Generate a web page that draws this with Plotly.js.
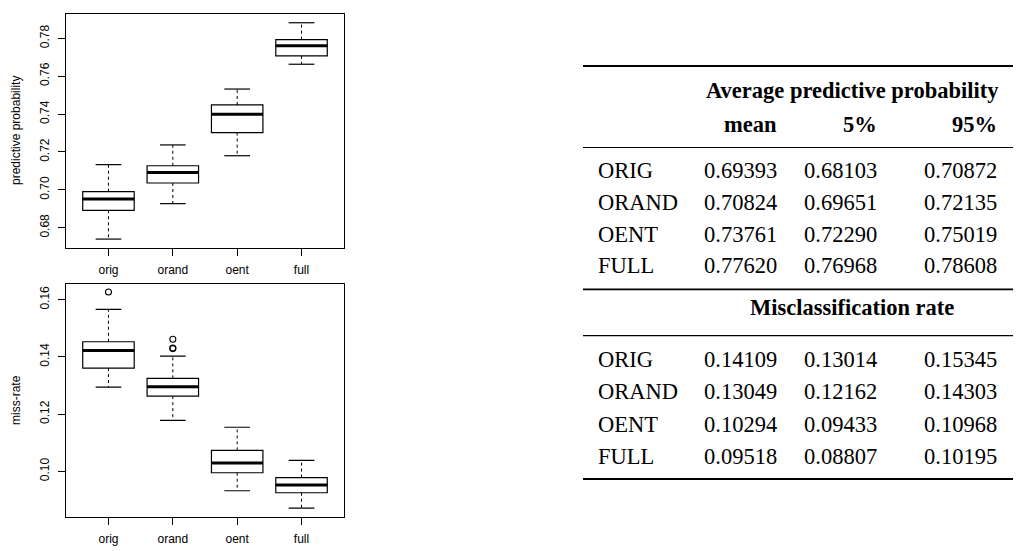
<!DOCTYPE html>
<html>
<head>
<meta charset="utf-8">
<script src="https://cdn.plot.ly/plotly-3.0.1.min.js"></script>
<style>html,body{margin:0;padding:0;background:#fff;}#chart{width:1024px;height:551px;}</style>
</head>
<body>
<div id="chart"></div>
<script>
// ---- data ----
const groups = ['orig', 'orand', 'oent', 'full'];
const groupPos = [1, 2, 3, 4];

// predictive probability boxplot stats
const probLower  = [0.6740, 0.6927, 0.7180, 0.7663];
const probQ1     = [0.6892, 0.7036, 0.7302, 0.7707];
const probMedian = [0.6952, 0.7092, 0.7399, 0.7761];
const probQ3     = [0.6990, 0.7127, 0.7448, 0.7793];
const probUpper  = [0.7133, 0.7237, 0.7532, 0.7882];

// miss-rate boxplot stats
const missLower  = [0.1294, 0.1178, 0.0932, 0.0871];
const missQ1     = [0.1361, 0.1263, 0.0995, 0.0925];
const missMedian = [0.1422, 0.1296, 0.1029, 0.0952];
const missQ3     = [0.1453, 0.1325, 0.1073, 0.0978];
const missUpper  = [0.1566, 0.1403, 0.1154, 0.1038];
const missOutX   = [1, 2, 2, 2];
const missOutY   = [0.1627, 0.1462, 0.1431, 0.1429];

const probTicks = [0.68, 0.70, 0.72, 0.74, 0.76, 0.78];
const missTicks = [0.10, 0.12, 0.14, 0.16];

// table
const rowLabels = ['ORIG', 'ORAND', 'OENT', 'FULL'];
const colLabels = ['mean', '5%', '95%'];
const tableHead1 = 'Average predictive probability';
const tableHead2 = 'Misclassification rate';
const probMean = [0.69393, 0.70824, 0.73761, 0.77620];
const probP5   = [0.68103, 0.69651, 0.72290, 0.76968];
const probP95  = [0.70872, 0.72135, 0.75019, 0.78608];
const missMean = [0.14109, 0.13049, 0.10294, 0.09518];
const missP5   = [0.13014, 0.12162, 0.09433, 0.08807];
const missP95  = [0.15345, 0.14303, 0.10968, 0.10195];

// ---- helpers ----
const W = 1024, H = 551;
const px = x => x / W;
const py = y => 1 - y / H;
const BLACK = '#000';
const sansFont = {family: 'Liberation Sans, Arial, Helvetica, sans-serif', size: 12, color: BLACK};
const serifFont = {family: 'Liberation Serif, Times New Roman, serif', size: 22.5, color: BLACK};

function boxTraces(lower, q1, med, q3, upper, xa, ya) {
  const traces = [];
  traces.push({
    type: 'box', x: groupPos, q1: q1, median: med, q3: q3,
    lowerfence: q1, upperfence: q3, width: 0.8, whiskerwidth: 0,
    boxpoints: false, fillcolor: '#fff',
    line: {color: BLACK, width: 1.2},
    xaxis: xa, yaxis: ya, hoverinfo: 'skip', showlegend: false
  });
  const wx = [], wy = [];
  const cx = [], cy = [];
  const mx = [], my = [];
  groupPos.forEach((p, i) => {
    wx.push(p, p, null, p, p, null);
    wy.push(q3[i], upper[i], null, q1[i], lower[i], null);
    cx.push(p - 0.2, p + 0.2, null, p - 0.2, p + 0.2, null);
    cy.push(upper[i], upper[i], null, lower[i], lower[i], null);
    mx.push(p - 0.4, p + 0.4, null);
    my.push(med[i], med[i], null);
  });
  traces.push({type: 'scatter', mode: 'lines', x: wx, y: wy, xaxis: xa, yaxis: ya,
    line: {color: BLACK, width: 1, dash: '3px,3px'}, hoverinfo: 'skip', showlegend: false});
  traces.push({type: 'scatter', mode: 'lines', x: cx, y: cy, xaxis: xa, yaxis: ya,
    line: {color: BLACK, width: 1.2}, hoverinfo: 'skip', showlegend: false});
  traces.push({type: 'scatter', mode: 'lines', x: mx, y: my, xaxis: xa, yaxis: ya,
    line: {color: BLACK, width: 3}, hoverinfo: 'skip', showlegend: false});
  return traces;
}

const data = [].concat(
  boxTraces(probLower, probQ1, probMedian, probQ3, probUpper, 'x', 'y'),
  boxTraces(missLower, missQ1, missMedian, missQ3, missUpper, 'x2', 'y2'),
  [{type: 'scatter', mode: 'markers', x: missOutX, y: missOutY, xaxis: 'x2', yaxis: 'y2',
    marker: {symbol: 'circle-open', size: 6, color: BLACK, line: {width: 1.1, color: BLACK}},
    hoverinfo: 'skip', showlegend: false}]
);

const xCommon = {
  range: [0.34, 4.66], tickvals: groupPos, ticktext: groups,
  showline: true, mirror: true, linecolor: BLACK, linewidth: 1,
  ticks: 'outside', ticklen: 7, tickwidth: 1, tickcolor: BLACK,
  showgrid: false, zeroline: false, tickfont: sansFont, ticklabelstandoff: 4,
  domain: [px(66), px(344)], fixedrange: true
};
const yCommon = {
  showline: true, mirror: true, linecolor: BLACK, linewidth: 1,
  ticks: 'outside', ticklen: 7, tickwidth: 1, tickcolor: BLACK,
  showgrid: false, zeroline: false, tickfont: sansFont, tickangle: -90,
  tickformat: '.2f', ticklabelstandoff: 4, fixedrange: true
};

const annotations = [];
const shapes = [];
annotations.push({text: 'predictive probability', xref: 'paper', yref: 'paper', x: px(16), y: py(131),
  textangle: -90, showarrow: false, font: sansFont, xanchor: 'center', yanchor: 'middle'});
annotations.push({text: 'miss-rate', xref: 'paper', yref: 'paper', x: px(16), y: py(400),
  textangle: -90, showarrow: false, font: sansFont, xanchor: 'center', yanchor: 'middle'});

const ruleX0 = 583, ruleX1 = 1013;
function rule(y, w) {
  shapes.push({type: 'line', xref: 'paper', yref: 'paper', x0: px(ruleX0), x1: px(ruleX1),
    y0: py(y), y1: py(y), line: {color: BLACK, width: w}});
}
function txt(s, x, y, anchor, bold) {
  annotations.push({text: bold ? '<b>' + s + '</b>' : s, xref: 'paper', yref: 'paper',
    x: px(x), y: py(y), xanchor: anchor, yanchor: 'middle', showarrow: false, font: serifFont});
}
const colRight = [779, 879, 999];
const labelLeft = 596;
rule(66, 2);
txt(tableHead1, 852, 91, 'center', true);
colLabels.forEach((c, j) => txt(c, colRight[j], 125, 'right', true));
rule(147.5, 1.2);
const rowY1 = [171, 202.7, 234, 265.7];
const probCols = [probMean, probP5, probP95];
rowLabels.forEach((r, i) => {
  txt(r, labelLeft, rowY1[i], 'left', false);
  probCols.forEach((col, j) => txt(col[i].toFixed(5), colRight[j], rowY1[i], 'right', false));
});
rule(289.3, 1.8);
txt(tableHead2, 852, 307, 'center', true);
rule(335.7, 1.2);
const rowY2 = [359, 391, 424, 456];
const missCols = [missMean, missP5, missP95];
rowLabels.forEach((r, i) => {
  txt(r, labelLeft, rowY2[i], 'left', false);
  missCols.forEach((col, j) => txt(col[i].toFixed(5), colRight[j], rowY2[i], 'right', false));
});
rule(479, 2);

const layout = {
  width: W, height: H,
  margin: {l: 0, r: 0, t: 0, b: 0},
  paper_bgcolor: '#fff', plot_bgcolor: '#fff',
  showlegend: false,
  xaxis: Object.assign({}, xCommon, {anchor: 'y'}),
  xaxis2: Object.assign({}, xCommon, {anchor: 'y2'}),
  yaxis: Object.assign({}, yCommon, {anchor: 'x', range: [0.66929, 0.79282], tickvals: probTicks,
    domain: [py(248), py(14)]}),
  yaxis2: Object.assign({}, yCommon, {anchor: 'x2', range: [0.08402, 0.1656], tickvals: missTicks,
    domain: [py(517), py(283.7)]}),
  annotations: annotations,
  shapes: shapes
};

Plotly.newPlot('chart', data, layout, {staticPlot: true, displayModeBar: false});
</script>
</body>
</html>
